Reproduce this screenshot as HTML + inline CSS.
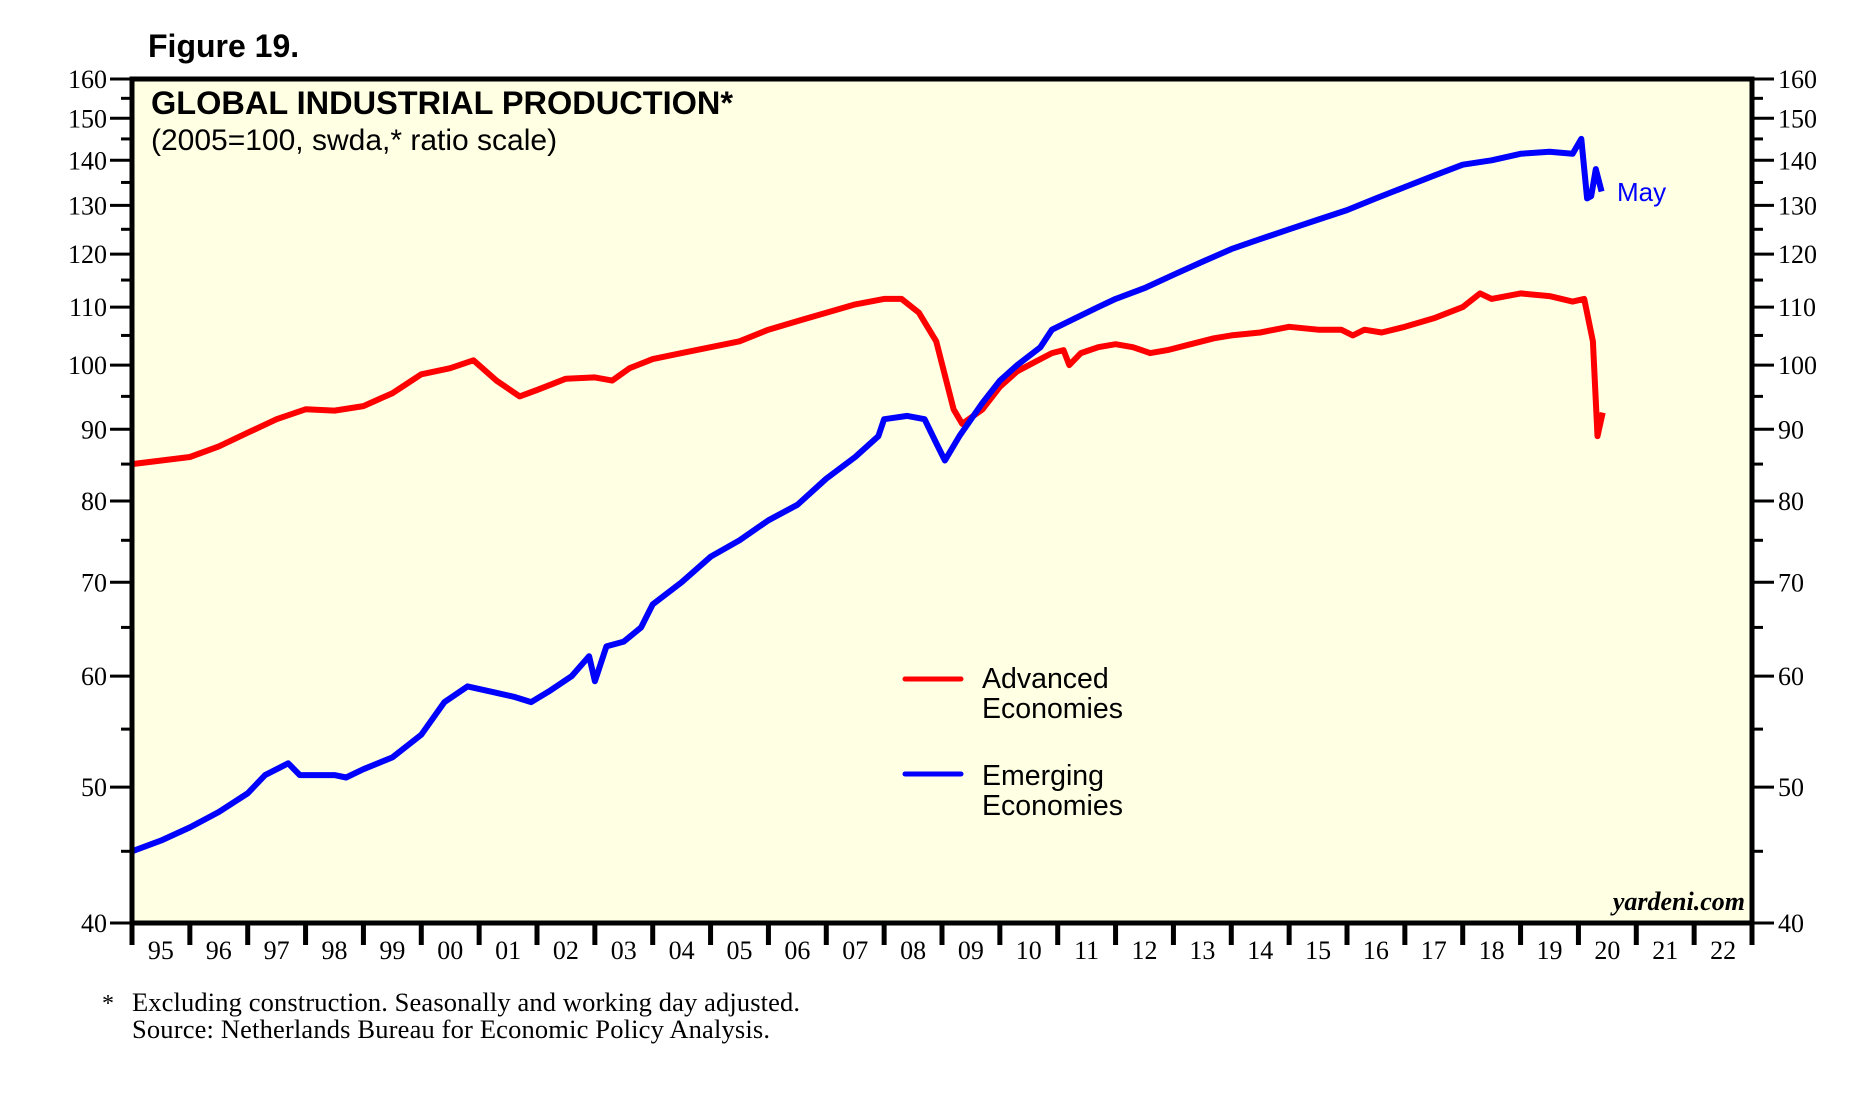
<!DOCTYPE html>
<html><head><meta charset="utf-8"><style>
html,body{margin:0;padding:0;background:#fff;}
svg{display:block;}
</style></head><body>
<svg id="chart" width="1863" height="1095" viewBox="0 0 1863 1095" xmlns="http://www.w3.org/2000/svg">
<text x="148" y="57" font-family="Liberation Sans, sans-serif" font-weight="bold" font-size="32">Figure 19.</text>
<rect x="132" y="79" width="1620" height="844" fill="#FFFFE4"/>
<g id="grid"></g>
<g id="series"></g>
<rect x="132" y="79" width="1620" height="844" fill="none" stroke="#000" stroke-width="5"/>
<text x="151" y="114" font-family="Liberation Sans, sans-serif" font-weight="bold" font-size="32.5">GLOBAL INDUSTRIAL PRODUCTION*</text>
<text x="151" y="150" font-family="Liberation Sans, sans-serif" font-size="30">(2005=100, swda,* ratio scale)</text>
<g font-family="Liberation Sans, sans-serif" font-size="28.5">
<line x1="905" y1="679" x2="961" y2="679" stroke="#f00" stroke-width="5" stroke-linecap="round"/>
<text x="982" y="688">Advanced</text>
<text x="982" y="718">Economies</text>
<line x1="905" y1="774" x2="961" y2="774" stroke="#00f" stroke-width="5" stroke-linecap="round"/>
<text x="982" y="785">Emerging</text>
<text x="982" y="815">Economies</text>
</g>
<text x="1617" y="201" font-family="Liberation Sans, sans-serif" font-size="26" fill="#00f">May</text>
<text x="1745" y="910" text-anchor="end" font-family="Liberation Serif, serif" font-style="italic" font-weight="bold" font-size="26">yardeni.com</text>
<text x="102" y="1011" font-family="Liberation Serif, serif" font-size="24">*</text>
<text x="132" y="1011" font-family="Liberation Serif, serif" font-size="26.5" textLength="668">Excluding construction. Seasonally and working day adjusted.</text>
<text x="132" y="1038" font-family="Liberation Serif, serif" font-size="26.5" textLength="638">Source: Netherlands Bureau for Economic Policy Analysis.</text>
</svg>
<script>
const yearLabels = ["95","96","97","98","99","00","01","02","03","04","05","06","07","08","09","10","11","12","13","14","15","16","17","18","19","20","21","22"];
const yTicks = [40,50,60,70,80,90,100,110,120,130,140,150,160];
const yMinor = [45,55,65,75,85,95,105,115,125,135,145,155];
const advDates = [1995.0,1996.0,1996.5,1997.0,1997.5,1998.0,1998.5,1999.0,1999.5,2000.0,2000.5,2000.9,2001.3,2001.7,2002.0,2002.5,2003.0,2003.3,2003.6,2004.0,2004.5,2005.0,2005.5,2006.0,2006.5,2007.0,2007.5,2008.0,2008.3,2008.6,2008.9,2009.2,2009.35,2009.7,2010.0,2010.3,2010.6,2010.9,2011.1,2011.2,2011.4,2011.7,2012.0,2012.3,2012.6,2012.9,2013.3,2013.7,2014.0,2014.5,2015.0,2015.5,2015.9,2016.1,2016.3,2016.6,2017.0,2017.5,2018.0,2018.3,2018.5,2019.0,2019.5,2019.9,2020.1,2020.25,2020.33,2020.42];
const advValues = [85,86,87.5,89.5,91.5,93,92.8,93.5,95.5,98.5,99.5,100.8,97.5,95,96,97.8,98,97.5,99.5,101,102,103,104,106,107.5,109,110.5,111.5,111.5,109,104,93,90.8,93,96.5,99,100.5,102,102.5,100,102,103,103.5,103,102,102.5,103.5,104.5,105,105.5,106.5,106,106,105,106,105.5,106.5,108,110,112.5,111.5,112.5,112,111,111.5,104,89,92.5];
const emDates = [1995.0,1995.5,1996.0,1996.5,1997.0,1997.3,1997.7,1997.9,1998.5,1998.7,1999.0,1999.5,2000.0,2000.4,2000.8,2001.2,2001.6,2001.9,2002.2,2002.6,2002.9,2003.0,2003.2,2003.5,2003.8,2004.0,2004.5,2005.0,2005.5,2006.0,2006.5,2007.0,2007.5,2007.9,2008.0,2008.4,2008.7,2008.9,2009.05,2009.3,2009.7,2010.0,2010.3,2010.7,2010.9,2011.3,2011.7,2012.0,2012.5,2013.0,2013.5,2014.0,2014.5,2015.0,2015.5,2016.0,2016.5,2017.0,2017.5,2018.0,2018.5,2019.0,2019.5,2019.9,2020.05,2020.15,2020.22,2020.3,2020.4];
const emValues = [45,45.8,46.8,48,49.5,51,52,51,51,50.8,51.5,52.5,54.5,57.5,59,58.5,58,57.5,58.5,60,62,59.5,63,63.5,65,67.5,70,73,75,77.5,79.5,83,86,89,91.5,92,91.5,88,85.5,89,94,97.5,100,103,106,108,110,111.5,113.5,116,118.5,121,123,125,127,129,131.5,134,136.5,139,140,141.5,142,141.5,145,131.5,132,138,133];

const NS = "http://www.w3.org/2000/svg";
const L = 132, R = 1752, T = 79, B = 923;
const X0 = 1995, X1 = 2023;
const xs = d => L + (d - X0) / (X1 - X0) * (R - L);
const ys = v => B - Math.log(v / 40) / Math.log(4) * (B - T);
function mk(tag, attrs, parent) {
  const e = document.createElementNS(NS, tag);
  for (const k in attrs) e.setAttribute(k, attrs[k]);
  parent.appendChild(e);
  return e;
}
const grid = document.getElementById('grid');
yTicks.forEach(v => {
  const y = ys(v);
  const tl = mk('line', {x1: L - 22, x2: L, y1: y, y2: y, stroke: '#000', 'stroke-width': 3}, grid);
  
  
  const tr = mk('line', {x1: R, x2: R + 22, y1: y, y2: y, stroke: '#000', 'stroke-width': 3}, grid);
  
  
  const a = mk('text', {x: L - 25, y: y + 9, 'text-anchor': 'end', 'font-family': 'Liberation Serif, serif', 'font-size': 26}, grid);
  a.textContent = v;
  
  
  const b = mk('text', {x: R + 26, y: y + 9, 'font-family': 'Liberation Serif, serif', 'font-size': 26}, grid);
  b.textContent = v;
  
  
});
yMinor.forEach(v => {
  const y = ys(v);
  const a = mk('line', {x1: L - 11, x2: L, y1: y, y2: y, stroke: '#000', 'stroke-width': 3}, grid);
  
  
  const b = mk('line', {x1: R, x2: R + 11, y1: y, y2: y, stroke: '#000', 'stroke-width': 3}, grid);
  
  
});
for (let i = 0; i <= yearLabels.length; i++) {
  const x = xs(X0 + i);
  const t = mk('line', {x1: x, x2: x, y1: B, y2: B + 22, stroke: '#000', 'stroke-width': 5}, grid);
  
  
}
yearLabels.forEach((lab, i) => {
  const t = mk('text', {x: xs(X0 + i + 0.5), y: B + 36, 'text-anchor': 'middle', 'font-family': 'Liberation Serif, serif', 'font-size': 26}, grid);
  t.textContent = lab;
  
  
});
const series = document.getElementById('series');
function line(dates, vals, color, name) {
  const d = dates.map((t, i) => (i ? 'L' : 'M') + xs(t).toFixed(1) + ' ' + ys(vals[i]).toFixed(1)).join(' ');
  const p = mk('path', {d: d, fill: 'none', stroke: color, 'stroke-width': 6, 'stroke-linejoin': 'round'}, series);
  
  
}
line(advDates, advValues, '#f00', 'advanced-economies-line');
line(emDates, emValues, '#00f', 'emerging-economies-line');
</script>
</body></html>
